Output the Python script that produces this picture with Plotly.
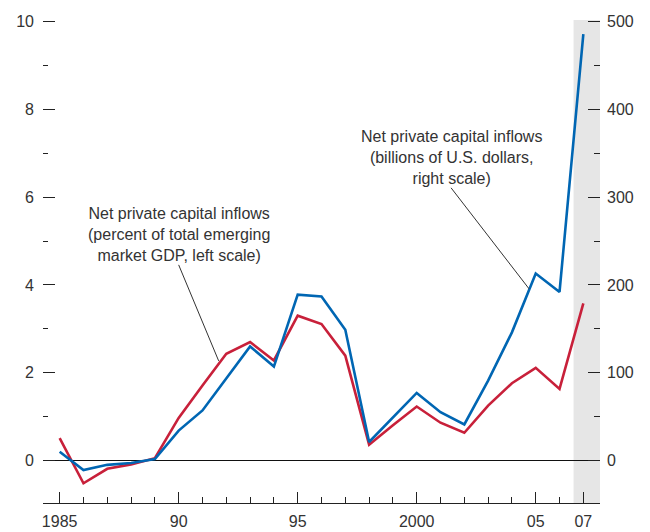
import plotly.graph_objects as go

years = list(range(1985, 2008))
pct_gdp = [0.51, -0.52, -0.19, -0.09, 0.05, 0.97, 1.71, 2.43, 2.70, 2.28, 3.30, 3.11,
           2.39, 0.36, 0.80, 1.23, 0.86, 0.63, 1.25, 1.76, 2.11, 1.63, 3.58]
billions = [10, -11, -5, -3, 1.5, 34, 57, 93, 130, 107, 189, 187,
            149, 21, 49, 77, 55, 41, 91, 146, 213, 192, 486]

x_tickvals = [1985, 1990, 1995, 2000, 2005, 2007]
x_ticktext = ["1985", "90", "95", "2000", "05", "07"]
x_minor = [y for y in years if y not in x_tickvals]
left_ticks = [0, 2, 4, 6, 8, 10]
left_minor = [1, 3, 5, 7, 9]
right_ticks = [0, 100, 200, 300, 400, 500]
right_minor = [50, 150, 250, 350, 450]

BLUE = "#0066b3"
RED = "#c8203a"
TXT = "#333333"
FONT = "Liberation Sans, Arial, sans-serif"

fig = go.Figure()
fig.add_trace(go.Scatter(x=years, y=billions, yaxis="y2", mode="lines",
                         line=dict(color=BLUE, width=2.6), showlegend=False))
fig.add_trace(go.Scatter(x=years, y=pct_gdp, mode="lines",
                         line=dict(color=RED, width=2.6), showlegend=False))

fig.add_vrect(x0=2006.59, x1=2007.7, fillcolor="#e6e6e6", line_width=0, layer="below")

fig.update_layout(
    width=650, height=532,
    margin=dict(l=43, r=50, t=20, b=29, autoexpand=False),
    paper_bgcolor="white", plot_bgcolor="white",
    font=dict(family=FONT, size=16, color=TXT),
    xaxis=dict(range=[1984.30, 2007.70], showgrid=False, zeroline=False, automargin=False,
               showline=True, linecolor="#222", linewidth=1.3,
               ticks="inside", ticklen=11, tickcolor="#222", tickwidth=1.3,
               tickvals=x_tickvals, ticktext=x_ticktext,
               minor=dict(tickvals=x_minor, ticks="inside", ticklen=6,
                          tickcolor="#222", tickwidth=1.3),
               ticklabelstandoff=4),
    yaxis=dict(range=[-0.97, 10.04], showgrid=False, showline=False, automargin=False,
               zeroline=True, zerolinecolor="#111", zerolinewidth=1.2,
               ticks="inside", ticklen=12, tickcolor="#222", tickwidth=1.3,
               tickvals=left_ticks,
               minor=dict(tickvals=left_minor, ticks="inside", ticklen=5,
                          tickcolor="#222", tickwidth=1.3),
               ticklabelstandoff=8),
    yaxis2=dict(range=[-48.5, 502], overlaying="y", side="right", automargin=False,
                showgrid=False, showline=False, zeroline=False,
                ticks="inside", ticklen=12, tickcolor="#222", tickwidth=1.3,
                tickvals=right_ticks,
                minor=dict(tickvals=right_minor, ticks="inside", ticklen=6,
                           tickcolor="#222", tickwidth=1.3),
                ticklabelstandoff=6),
)

fig.add_annotation(x=1991.68, y=2.27, xref="x", yref="y",
                   text="Net private capital inflows<br>(percent of total emerging<br>market GDP, left scale)",
                   showarrow=True, arrowhead=0, arrowwidth=1, arrowcolor="#333",
                   ax=-40, ay=-96, xanchor="center", yanchor="bottom", borderpad=0,
                   font=dict(size=16, color=TXT), align="center")
fig.add_annotation(x=2004.72, y=195.6, xref="x", yref="y2",
                   text="Net private capital inflows<br>(billions of U.S. dollars,<br>right scale)",
                   showarrow=True, arrowhead=0, arrowwidth=1, arrowcolor="#333",
                   ax=-78, ay=-101, xanchor="center", yanchor="bottom", borderpad=0,
                   font=dict(size=16, color=TXT), align="center")

fig.write_html("out.html", config={"displayModeBar": False},
               post_script="document.body.style.margin='0';document.body.style.overflow='hidden';")
